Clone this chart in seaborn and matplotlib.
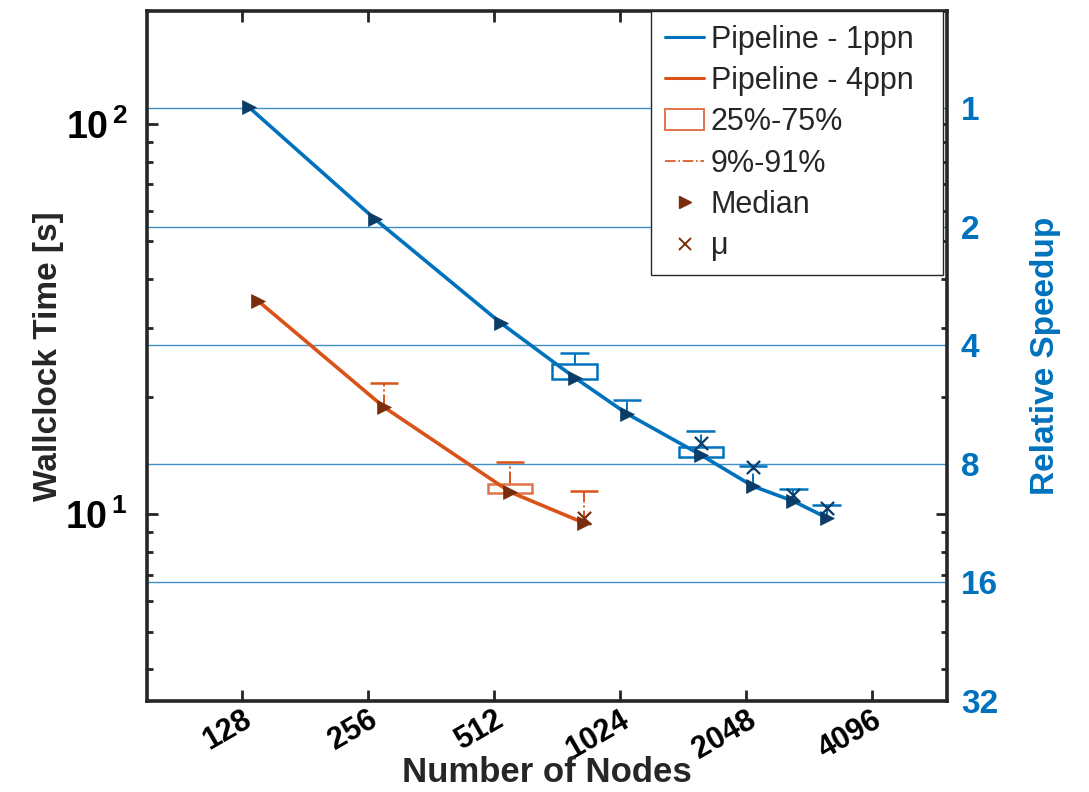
import numpy as np
import pandas as pd
import matplotlib
matplotlib.use("Agg")
import matplotlib.pyplot as plt
import seaborn as sns
from matplotlib.patches import Rectangle
from matplotlib.lines import Line2D
from matplotlib.ticker import NullFormatter, NullLocator, LogLocator

# ---- data -------------------------------------------------------------
nodes_1ppn = [133, 266, 532, 798, 1064, 1596, 2128, 2660, 3192]
median_1ppn = [110.5, 57.1, 30.9, 22.4, 18.1, 14.2, 11.8, 10.8, 9.8]
mean_1ppn = [np.nan, np.nan, np.nan, np.nan, np.nan, 15.2, 13.2, 11.2, 10.4]
q25_1ppn = [np.nan, np.nan, np.nan, 22.2, np.nan, 14.05, np.nan, np.nan, np.nan]
q75_1ppn = [np.nan, np.nan, np.nan, 24.3, np.nan, 14.9, np.nan, np.nan, np.nan]
p91_1ppn = [np.nan, np.nan, np.nan, 25.9, 19.6, 16.3, 13.3, 11.6, 10.56]

nodes_4ppn = [140, 280, 560, 840]
median_4ppn = [35.2, 18.8, 11.4, 9.5]
mean_4ppn = [np.nan, np.nan, np.nan, 9.8]
q25_4ppn = [np.nan, np.nan, 11.32, np.nan]
q75_4ppn = [np.nan, np.nan, 11.94, np.nan]
p91_4ppn = [np.nan, 21.7, 13.6, 11.5]

node_ticks = [128, 256, 512, 1024, 2048, 4096]
speedup_ticks = [1, 2, 4, 8, 16, 32]

# ---- style -------------------------------------------------------------
sns.set_style("white")
plt.rcParams["font.family"] = ["Liberation Sans", "DejaVu Sans"]
plt.rcParams["mathtext.fontset"] = "custom"
plt.rcParams["mathtext.rm"] = "Liberation Sans:bold"
plt.rcParams["mathtext.bf"] = "Liberation Sans:bold"
plt.rcParams["mathtext.default"] = "bf"

BLUE = "#0072BD"
ORANGE = "#D95319"
BLUE_DARK = "#0B3C68"
ORANGE_DARK = "#7A2D0C"
BOX_ORANGE = "#E0744A"
GRID_BLUE = "#4090C8"
INK = "#262626"

series = [
    dict(name="Pipeline - 1ppn", nodes=nodes_1ppn, med=median_1ppn, mean=mean_1ppn,
         q25=q25_1ppn, q75=q75_1ppn, p91=p91_1ppn,
         color=BLUE, dark=BLUE_DARK, box=BLUE),
    dict(name="Pipeline - 4ppn", nodes=nodes_4ppn, med=median_4ppn, mean=mean_4ppn,
         q25=q25_4ppn, q75=q75_4ppn, p91=p91_4ppn,
         color=ORANGE, dark=ORANGE_DARK, box=BOX_ORANGE),
]

fig = plt.figure(figsize=(10.89, 7.92), dpi=100)
ax = fig.add_axes([0.135, 0.1155, 0.7346, 0.8706])
ax2 = ax.twinx()

ax.set_xscale("log", base=2)
ax.set_yscale("log")
ax.set_xlim(76, 6190)
ax.set_ylim(3.33, 194.8)

box_half = 2 ** 0.175   # half box width, as a factor on the log-x scale
cap_half = 2 ** 0.112

for s in series:
    df = pd.DataFrame({"nodes": s["nodes"], "median": s["med"], "mean": s["mean"],
                       "q25": s["q25"], "q75": s["q75"], "p91": s["p91"]})
    # whiskers (median / box top up to the 91st percentile)
    w = df.dropna(subset=["p91"])
    lo = w["q75"].fillna(w["median"])
    ax.vlines(w["nodes"], lo, w["p91"], colors=s["color"], linestyles="-.",
              linewidth=1.4, zorder=3)
    ax.hlines(w["p91"], w["nodes"] / cap_half, w["nodes"] * cap_half,
              colors=s["color"], linewidth=1.8, zorder=3)
    # interquartile boxes
    b = df.dropna(subset=["q25", "q75"])
    for _, r in b.iterrows():
        ax.add_patch(Rectangle((r["nodes"] / box_half, r["q25"]),
                               r["nodes"] * box_half - r["nodes"] / box_half,
                               r["q75"] - r["q25"], fill=False,
                               edgecolor=s["box"], linewidth=1.8, zorder=3))
    # median line
    sns.lineplot(data=df, x="nodes", y="median", color=s["color"], linewidth=2.6,
                 ax=ax, zorder=4, legend=False)
    # means
    m = df.dropna(subset=["mean"])
    sns.scatterplot(data=m, x="nodes", y="mean", marker="x", color=s["dark"],
                    s=90, linewidth=1.6, ax=ax, zorder=5, legend=False)
    # medians
    sns.scatterplot(data=df, x="nodes", y="median", marker=">", color=s["dark"],
                    edgecolor=s["dark"], s=100, linewidth=0.5, ax=ax, zorder=6,
                    legend=False)

# ---- left / bottom axes ----------------------------------------------
ax.set_xticks(node_ticks, labels=[str(n) for n in node_ticks])
ax.xaxis.set_minor_locator(NullLocator())
ax.set_yticks([10, 100], labels=[r"$10^{\,1}$", r"$10^{\,2}$"])
ax.yaxis.set_minor_locator(LogLocator(base=10, subs=np.arange(2, 10)))
ax.yaxis.set_minor_formatter(NullFormatter())

ax.tick_params(axis="x", which="major", direction="in", length=8, width=2,
               top=True, bottom=True, color=INK, labelsize=22, pad=3)
ax.tick_params(axis="y", which="major", direction="in", length=8, width=2,
               left=True, right=True, color=INK, labelsize=27, pad=14)
ax.tick_params(axis="y", which="minor", direction="in", length=4, width=2,
               left=True, right=True, color=INK)
for lab in ax.get_xticklabels():
    lab.set_rotation(30)
    lab.set_ha("right")
    lab.set_va("top")
    lab.set_rotation_mode("anchor")
    lab.set_fontweight("bold")
    lab.set_color("black")
for lab in ax.get_yticklabels():
    lab.set_color("black")

for sp in ax.spines.values():
    sp.set_visible(True)
    sp.set_linewidth(2.6)
    sp.set_color(INK)

ax.set_xlabel("Number of Nodes", fontsize=25, fontweight="bold", color=INK)
ax.xaxis.set_label_coords(0.5, -0.080)
ax.set_ylabel("Wallclock Time [s]", fontsize=24, fontweight="bold", color=INK,
              labelpad=1)

# ---- right axis: relative speedup ---------------------------------------
ax2.set_yscale("log", base=2)
ax2.set_ylim(32, 0.566)
ax2.set_yticks(speedup_ticks, labels=[str(v) for v in speedup_ticks])
ax2.yaxis.set_minor_locator(NullLocator())
ax2.tick_params(axis="y", length=0, pad=10, labelsize=24, labelcolor=BLUE)
for lab in ax2.get_yticklabels():
    lab.set_fontweight("bold")
ax2.grid(True, axis="y", color=GRID_BLUE, linewidth=1.0)
for sp in ax2.spines.values():
    sp.set_visible(False)
ax2.set_ylabel("Relative Speedup", fontsize=24, fontweight="bold", color=BLUE,
               labelpad=23)

ax.set_zorder(ax2.get_zorder() + 1)
ax.patch.set_visible(False)

# ---- legend -----------------------------------------------------------
handles = [
    Line2D([], [], color=BLUE, linewidth=2.2),
    Line2D([], [], color=ORANGE, linewidth=2.2),
    Rectangle((0, 0), 1, 1, fill=False, edgecolor=BOX_ORANGE, linewidth=1.4),
    Line2D([], [], color=ORANGE, linestyle="-.", linewidth=1.2),
    Line2D([], [], color=ORANGE_DARK, marker=">", linestyle="none", markersize=8),
    Line2D([], [], color=ORANGE_DARK, marker="x", linestyle="none", markersize=9,
           markeredgewidth=1.4),
]
labels = ["Pipeline - 1ppn", "Pipeline - 4ppn", "25%-75%", "9%-91%", "Median", "\u03bc"]
leg = ax.legend(handles, labels, loc="upper left", bbox_to_anchor=(0.63, 0.0, 0.365, 1.0),
                mode="expand", fontsize=22, frameon=True, fancybox=False, framealpha=1,
                edgecolor=INK, borderaxespad=0.0, handlelength=1.3,
                handletextpad=0.2, labelspacing=0.37, borderpad=0.45)
leg.get_frame().set_linewidth(1.0)

fig.savefig("out.png", dpi=100)
